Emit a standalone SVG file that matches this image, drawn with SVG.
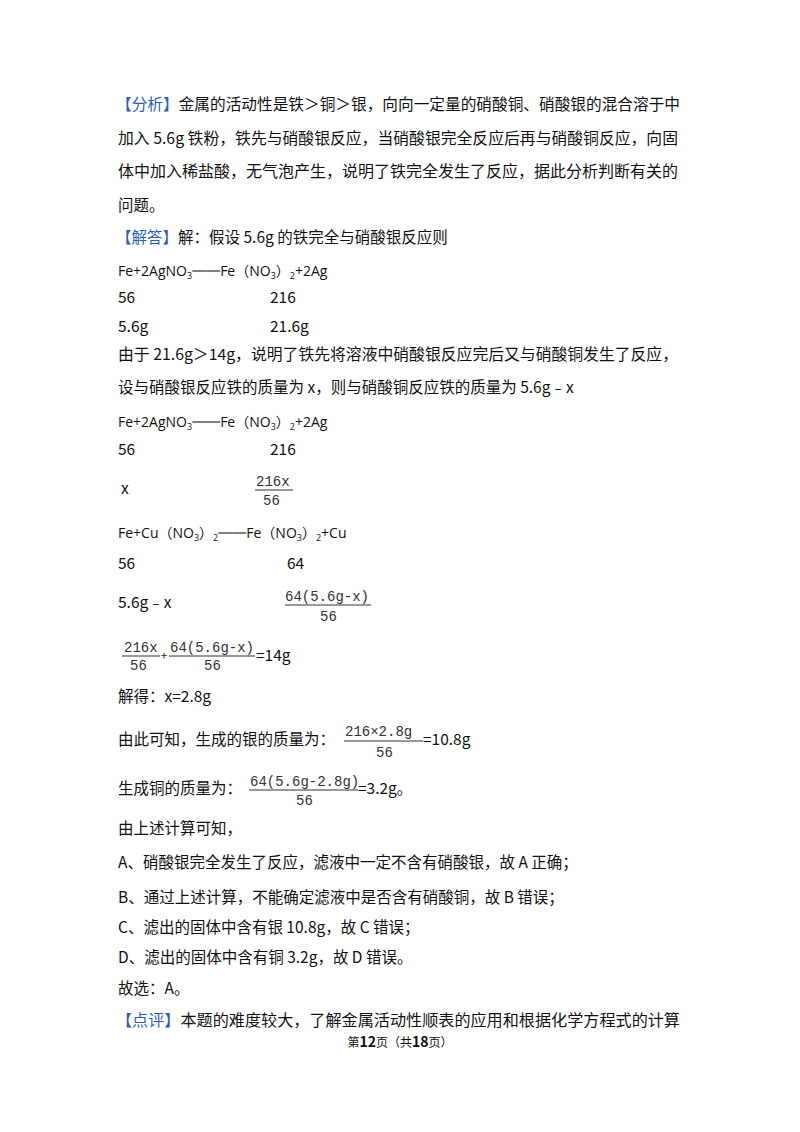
<svg xmlns="http://www.w3.org/2000/svg" width="800" height="1132" viewBox="0 0 800 1132">
<style>
text{font-family:"Noto Sans CJK SC","Noto Sans",sans-serif;font-size:15.5px;fill:#111}
.b{fill:#2d5fb8}
.e{font-size:14px;font-family:"Open Sans","Noto Sans CJK SC",sans-serif}
.f{font-family:"Liberation Mono","Noto Sans CJK SC",monospace;font-size:14px;fill:#333}
.s{font-size:9px}
.ft{font-size:12px}
line{stroke:#333;stroke-width:1}
</style>
<rect width="800" height="1132" fill="#fff"/>
<g id="text">
<text x="116" y="110" textLength="564" lengthAdjust="spacingAndGlyphs"><tspan class="b">【分析】</tspan>金属的活动性是铁＞铜＞银，向向一定量的硝酸铜、硝酸银的混合溶于中</text>
<text x="118" y="144" textLength="560" lengthAdjust="spacingAndGlyphs">加入 5.6g 铁粉，铁先与硝酸银反应，当硝酸银完全反应后再与硝酸铜反应，向固</text>
<text x="118" y="177" textLength="560" lengthAdjust="spacingAndGlyphs">体中加入稀盐酸，无气泡产生，说明了铁完全发生了反应，据此分析判断有关的</text>
<text x="118" y="211">问题。</text>
<text x="116" y="243"><tspan class="b">【解答】</tspan>解：假设 5.6g 的铁完全与硝酸银反应则</text>
<text class="e" x="118" y="276">Fe+2AgNO<tspan class="s" dy="3">3</tspan><tspan dy="-3">══Fe（NO</tspan><tspan class="s" dy="3">3</tspan><tspan dy="-3">）</tspan><tspan class="s" dy="3">2</tspan><tspan dy="-3">+2Ag</tspan></text>
<text x="118" y="303">56</text><text x="270" y="303">216</text>
<text x="118" y="332">5.6g</text><text x="270" y="332">21.6g</text>
<text x="118" y="360" textLength="560" lengthAdjust="spacingAndGlyphs">由于 21.6g＞14g，说明了铁先将溶液中硝酸银反应完后又与硝酸铜发生了反应，</text>
<text x="118" y="393">设与硝酸银反应铁的质量为 x，则与硝酸铜反应铁的质量为 5.6g﹣x</text>
<text class="e" x="118" y="427">Fe+2AgNO<tspan class="s" dy="3">3</tspan><tspan dy="-3">══Fe（NO</tspan><tspan class="s" dy="3">3</tspan><tspan dy="-3">）</tspan><tspan class="s" dy="3">2</tspan><tspan dy="-3">+2Ag</tspan></text>
<text x="118" y="455">56</text><text x="270" y="455">216</text>
<text x="121" y="494">x</text>
<text class="f" x="256" y="486">216x</text><line x1="255" y1="490" x2="293" y2="490"/><text class="f" x="263" y="505">56</text>
<text class="e" x="118" y="538">Fe+Cu（NO<tspan class="s" dy="3">3</tspan><tspan dy="-3">）</tspan><tspan class="s" dy="3">2</tspan><tspan dy="-3">══Fe（NO</tspan><tspan class="s" dy="3">3</tspan><tspan dy="-3">）</tspan><tspan class="s" dy="3">2</tspan><tspan dy="-3">+Cu</tspan></text>
<text x="118" y="569">56</text><text x="287" y="569">64</text>
<text x="118" y="608">5.6g﹣x</text>
<text class="f" x="285" y="601">64(5.6g-x)</text><line x1="285" y1="605" x2="371" y2="605"/><text class="f" x="320" y="621">56</text>
<text class="f" x="124" y="652">216x</text><line x1="122" y1="656" x2="160" y2="656"/><text class="f" x="130" y="670">56</text>
<text x="161" y="660" style="font-size:11px">+</text>
<text class="f" x="170" y="652">64(5.6g-x)</text><line x1="169" y1="656" x2="255" y2="656"/><text class="f" x="204" y="670">56</text>
<text x="256" y="661">=14g</text>
<text x="118" y="702">解得：x=2.8g</text>
<text x="118" y="745">由此可知，生成的银的质量为：</text>
<text class="f" x="345" y="736">216×2.8g</text><line x1="344" y1="741" x2="423" y2="741"/><text class="f" x="376" y="757">56</text>
<text x="423" y="745">=10.8g</text>
<text x="118" y="794">生成铜的质量为：</text>
<text class="f" x="250" y="786">64(5.6g-2.8g)</text><line x1="249" y1="790" x2="358" y2="790"/><text class="f" x="296" y="805">56</text>
<text x="358" y="794">=3.2g。</text>
<text x="118" y="834">由上述计算可知，</text>
<text x="118" y="868">A、硝酸银完全发生了反应，滤液中一定不含有硝酸银，故 A 正确；</text>
<text x="118" y="903">B、通过上述计算，不能确定滤液中是否含有硝酸铜，故 B 错误；</text>
<text x="118" y="933">C、滤出的固体中含有银 10.8g，故 C 错误；</text>
<text x="118" y="963">D、滤出的固体中含有铜 3.2g，故 D 错误。</text>
<text x="118" y="994">故选：A。</text>
<text x="116" y="1026" textLength="564" lengthAdjust="spacingAndGlyphs"><tspan class="b">【点评】</tspan>本题的难度较大，了解金属活动性顺表的应用和根据化学方程式的计算</text>
<text class="ft" x="400" y="1047" text-anchor="middle">第<tspan font-weight="bold" font-size="14">12</tspan>页（共<tspan font-weight="bold" font-size="14">18</tspan>页）</text>
</g>
</svg>
